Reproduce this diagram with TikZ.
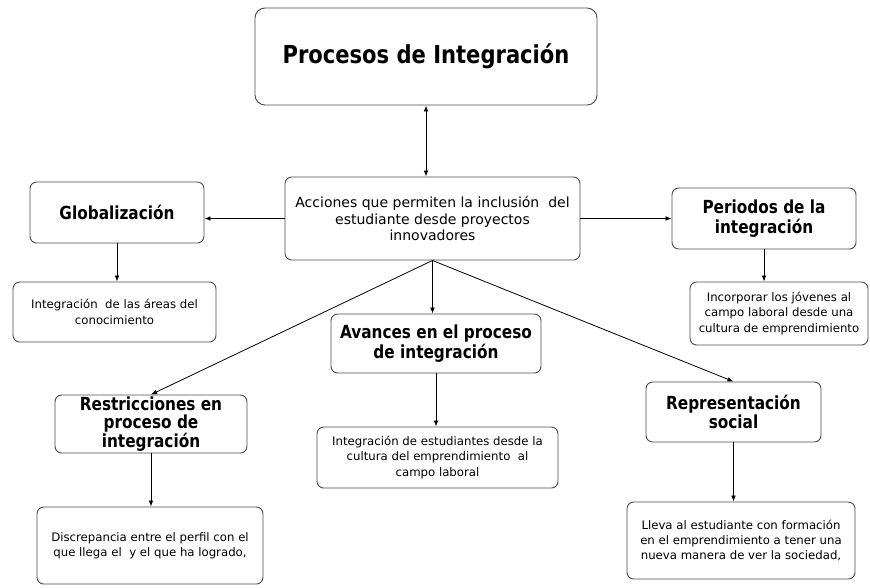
\documentclass[tikz,border=0pt]{standalone}
\usepackage{fontspec}
\setmainfont{DejaVu Sans}
\newfontfamily\titulofont[FakeStretch=0.85]{DejaVu Sans}
\usetikzlibrary{arrows.meta}
\tikzset{
 caja/.style={draw=black!70, line width=0.7pt, rounded corners=5pt, align=center, inner sep=0pt},
 tema/.style={caja, font=\titulofont\bfseries\fontsize{13.5}{14.5}\selectfont},
 nota/.style={caja, font=\fontsize{8.8}{11.6}\selectfont},
 flecha/.style={-{Latex[length=4.5pt,width=3.5pt]}, line width=0.6pt},
 flechas/.style={{Latex[length=4.5pt,width=3.5pt]}-{Latex[length=4.5pt,width=3.5pt]}, line width=0.6pt}
}

\begin{document}
\begin{tikzpicture}[x=0.75pt,y=-0.75pt]
 \useasboundingbox (0,0) rectangle (870,587);
 \node[tema, rounded corners=7.5pt, minimum width=256.5pt, minimum height=72.75pt, font=\titulofont\bfseries\fontsize{18.6}{20}\selectfont] (titulo) at (426,56.5) {Procesos de Integración};
 \node[caja, minimum width=221.25pt, minimum height=62.25pt, font=\fontsize{10.5}{12.3}\selectfont] (acciones) at (432.5,218.5) {Acciones que permiten la inclusión\ \ del\\estudiante desde proyectos\\innovadores};
 \node[tema, minimum width=130.5pt, minimum height=45.75pt] (glob) at (117,212.5) {Globalización};
 \node[nota, minimum width=152.25pt, minimum height=45pt] (globsub) at (114.5,312) {Integración\ \ de las áreas del\\conocimiento};
 \node[tema, minimum width=138pt, minimum height=45.75pt] (periodos) at (764,218.5) {Periodos de la\\integración};
 \node[nota, minimum width=133.5pt, minimum height=47.25pt] (persub) at (779,313.5) {Incorporar los jóvenes al\\campo laboral desde una\\cultura de emprendimiento};
 \node[tema, minimum width=157.5pt, minimum height=44.25pt] (avances) at (436,343.5) {Avances en el proceso\\de integración};
 \node[nota, minimum width=180.75pt, minimum height=45.75pt] (avsub) at (437.5,457.5) {Integración de estudiantes desde la\\cultura del emprendimiento\ \ al\\campo laboral};
 \node[tema, minimum width=144pt, minimum height=43.5pt, font=\titulofont\bfseries\fontsize{13.5}{13.8}\selectfont] (restr) at (151,424) {Restricciones en\\proceso de\\integración};
 \node[nota, minimum width=169.5pt, minimum height=57.75pt] (restrsub) at (150,545.5) {Discrepancia entre el perfil con el\\que llega el\ \ y el que ha logrado,};
 \node[tema, minimum width=131.25pt, minimum height=45pt] (repr) at (733.5,412) {Representación\\social};
 \node[nota, minimum width=171pt, minimum height=57.75pt] (reprsub) at (741,540.5) {Lleva al estudiante con formación\\en el emprendimiento a tener una\\nueva manera de ver la sociedad,};
 \draw[flechas] (titulo) -- (titulo |- acciones.north);
 \draw[flecha] (acciones.west) -- (acciones.west -| glob.east);
 \draw[flecha] (acciones.east) -- (acciones.east -| periodos.west);
 \draw[flecha] (glob) -- (glob |- globsub.north);
 \draw[flecha] (periodos) -- (periodos |- persub.north);
 \draw[flecha] (acciones.south) -- (acciones.south |- avances.north);
 \draw[flecha] (acciones.south) -- (restr.north);
 \draw[flecha] (acciones.south) -- (repr.north);
 \draw[flecha] (avances) -- (avances |- avsub.north);
 \draw[flecha] (restr) -- (restr |- restrsub.north);
 \draw[flecha] (repr) -- (repr |- reprsub.north);
\end{tikzpicture}
\end{document}
